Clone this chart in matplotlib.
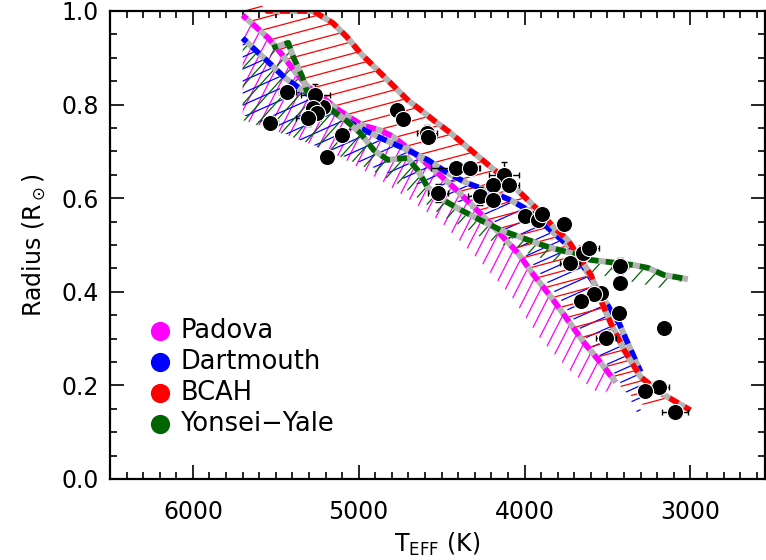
import matplotlib
matplotlib.use('Agg')
import matplotlib.pyplot as plt
import numpy as np
from matplotlib.patches import Polygon
from matplotlib.collections import LineCollection
from matplotlib.ticker import MultipleLocator, FormatStrFormatter

plt.rcParams['font.family'] = ['DejaVu Sans']
plt.rcParams['mathtext.fontset'] = 'dejavusans'

# Padova isochrone (drawn) and the far edge of its band
padova_teff = [5700, 5620, 5545, 5460, 5380, 5305, 5200, 5120, 4980, 4870, 4790, 4630,
               4525, 4430, 4305, 4185, 4040, 3945, 3840, 3740, 3640, 3540, 3450]
padova_rad = [0.991, 0.966, 0.942, 0.906, 0.868, 0.838, 0.810, 0.788, 0.756, 0.745, 0.731, 0.686,
              0.654, 0.624, 0.581, 0.538, 0.483, 0.436, 0.389, 0.340, 0.291, 0.248, 0.207]
padova_edge_teff = [5700, 5515, 5350, 5110, 4870, 4690, 4505, 4265, 4085, 3900, 3720, 3540, 3450]
padova_edge_rad = [0.767, 0.746, 0.724, 0.688, 0.639, 0.596, 0.549, 0.464, 0.393, 0.297, 0.229, 0.179, 0.200]

# Dartmouth
dart_teff = [5700, 5625, 5545, 5445, 5340, 5170, 5080, 4990, 4870, 4730, 4585, 4465,
             4345, 4185, 4085, 3980, 3825, 3705, 3620, 3555, 3480, 3430, 3390, 3300]
dart_rad = [0.942, 0.917, 0.891, 0.857, 0.831, 0.788, 0.767, 0.750, 0.729, 0.707, 0.682, 0.654,
            0.632, 0.611, 0.596, 0.575, 0.526, 0.489, 0.440, 0.404, 0.360, 0.333, 0.300, 0.229]
dart_edge_teff = [5700, 5350, 5110, 4870, 4630, 4385, 4145, 3960, 3780, 3600, 3450, 3360, 3300]
dart_edge_rad = [0.778, 0.724, 0.692, 0.660, 0.628, 0.590, 0.543, 0.464, 0.382, 0.286, 0.222, 0.169, 0.126]

# BCAH
bcah_teff = [5700, 5550, 5275, 5155, 5070, 4990, 4705, 4550, 4445, 4305, 4205, 4085,
             3980, 3900, 3825, 3740, 3680, 3600, 3540, 3480, 3400, 3300, 3180, 3000]
bcah_rad = [1.05, 1.0, 1.0, 0.974, 0.944, 0.910, 0.810, 0.767, 0.739, 0.697, 0.667, 0.632,
            0.596, 0.568, 0.538, 0.511, 0.479, 0.436, 0.382, 0.333, 0.276, 0.218, 0.184, 0.147]
bcah_tail_teff = [3300, 3000]
bcah_tail_rad = [0.160, 0.140]

# Yonsei-Yale
yale_teff = [5520, 5425, 5395, 5340, 5310, 5230, 5160, 5080, 4990, 4910, 4825, 4705, 4645,
             4585, 4490, 4385, 4265, 4145, 3980, 3860, 3720, 3600, 3500, 3340, 3255, 3160, 3015]
yale_rad = [0.921, 0.932, 0.902, 0.859, 0.825, 0.803, 0.788, 0.767, 0.739, 0.703, 0.682, 0.686, 0.660,
            0.624, 0.596, 0.575, 0.553, 0.532, 0.511, 0.496, 0.483, 0.468, 0.464, 0.457, 0.451, 0.436, 0.427]
yale_edge_teff = [5700, 5350, 4990, 4750, 4505, 4265, 3900, 3540, 3175, 3015]
yale_edge_rad = [0.767, 0.724, 0.671, 0.628, 0.564, 0.517, 0.472, 0.436, 0.408, 0.427]

# measured stars
star_teff = [5213, 3648, 3539, 5533, 5431, 5261, 5273, 5249, 5304, 5098, 5189, 4772, 4736, 4591,
             4585, 4416, 4331, 4126, 4192, 4095, 4524, 4270, 4192, 3999, 3920, 3896, 3763, 3612,
             3727, 3425, 3425, 3582, 3660, 3431, 3159, 3509, 3189, 3274, 3092]
star_rad = [0.795, 0.483, 0.397, 0.761, 0.827, 0.821, 0.793, 0.782, 0.771, 0.735, 0.688, 0.788, 0.769, 0.739,
            0.731, 0.665, 0.665, 0.650, 0.628, 0.628, 0.611, 0.605, 0.596, 0.562, 0.553, 0.566, 0.545, 0.494,
            0.462, 0.455, 0.419, 0.395, 0.380, 0.355, 0.323, 0.301, 0.197, 0.188, 0.143]
star_teff_err = [0, 0, 0, 45, 50, 90, 0, 0, 75, 0, 0, 0, 0, 60,
                 0, 150, 55, 90, 0, 60, 60, 70, 0, 0, 0, 0, 0, 60,
                 60, 50, 0, 0, 0, 0, 0, 60, 60, 0, 80]
star_rad_err = [0, 0, 0, 0, 0, 0.023, 0, 0, 0.016, 0, 0, 0, 0, 0.018,
                0, 0, 0, 0.028, 0, 0, 0.02, 0.02, 0, 0, 0, 0, 0, 0,
                0, 0.017, 0, 0, 0, 0, 0, 0, 0, 0, 0]

models = ['Padova', 'Dartmouth', 'BCAH', 'Yonsei\u2212Yale']
colors = ['#ff00ff', '#0000ff', '#ff0000', '#006400']

W, H, DPI = 7.66, 5.60, 100
fig = plt.figure(figsize=(W, H), dpi=DPI)
ax_box = [110 / 766, 1 - 479 / 560, 655 / 766, 468 / 560]
ax = fig.add_axes(ax_box)
ax.set_xlim(6500, 2550)
ax.set_ylim(0.0, 1.0)

ax_w = W * DPI * ax_box[2]
ax_h = H * DPI * ax_box[3]


def hatch_band(top_t, top_r, bot_t, bot_r, color, angle, spacing=11.0):
    verts = list(zip(top_t, top_r)) + list(zip(bot_t[::-1], bot_r[::-1]))
    poly = Polygon(verts, closed=True, facecolor='none', edgecolor='none')
    ax.add_patch(poly)
    th = np.radians(angle)
    d = np.array([np.cos(th), np.sin(th)])
    n = np.array([-np.sin(th), np.cos(th)])
    L = np.hypot(ax_w, ax_h)
    center = np.array([ax_w / 2, ax_h / 2])
    segs = []
    for k in np.arange(-L, L, spacing):
        c = center + k * n
        p0 = c - L * d
        p1 = c + L * d
        segs.append([(p0[0] / ax_w, p0[1] / ax_h), (p1[0] / ax_w, p1[1] / ax_h)])
    lc = LineCollection(segs, colors=color, linewidths=0.9, transform=ax.transAxes, zorder=1)
    lc.set_clip_path(poly)
    ax.add_collection(lc, autolim=False)


# hatched bands
hatch_band(padova_teff, padova_rad, padova_edge_teff, padova_edge_rad, colors[0], 63, 10.5)
hatch_band(dart_teff, dart_rad, dart_edge_teff, dart_edge_rad, colors[1], 24, 11.0)
hatch_band(bcah_teff, bcah_rad, padova_teff + bcah_tail_teff, padova_rad + bcah_tail_rad,
           colors[2], 15, 11.5)
yale_top_teff = [t for t in dart_teff if t > yale_teff[0]] + yale_teff
yale_top_rad = [r for t, r in zip(dart_teff, dart_rad) if t > yale_teff[0]] + yale_rad
hatch_band(yale_top_teff, yale_top_rad, yale_edge_teff, yale_edge_rad, colors[3], 48, 12.0)

# isochrone lines: grey underlay + coloured dashes
curves = [(padova_teff, padova_rad), (dart_teff, dart_rad), (bcah_teff, bcah_rad), (yale_teff, yale_rad)]
for (t, r), col in zip(curves, colors):
    ax.plot(t, r, color='#b4b4b4', lw=4.3, solid_capstyle='butt', zorder=2)
    ax.plot(t, r, color=col, lw=4.0, linestyle=(0.8, (1.8, 1.3)), dash_capstyle='butt', zorder=2)

# stars
ax.errorbar(star_teff, star_rad, xerr=star_teff_err, yerr=star_rad_err, fmt='none',
            ecolor='black', elinewidth=1.0, capsize=2.5, capthick=1.0, zorder=3)
ax.scatter(star_teff, star_rad, s=135, c='black', edgecolors='white', linewidths=0.8, zorder=4)

# legend
for i, (name, col) in enumerate(zip(models, colors)):
    yy = 0.316 - i * 0.066
    ax.scatter([0.0763], [yy], s=165, c=col, transform=ax.transAxes, zorder=5, clip_on=False)
    ax.text(0.107, yy, name, transform=ax.transAxes, fontsize=18.5, va='center', ha='left')

# axes styling
ax.xaxis.set_major_locator(MultipleLocator(1000))
ax.xaxis.set_minor_locator(MultipleLocator(100))
ax.yaxis.set_major_locator(MultipleLocator(0.2))
ax.yaxis.set_minor_locator(MultipleLocator(0.05))
ax.yaxis.set_major_formatter(FormatStrFormatter('%.1f'))
ax.tick_params(which='both', direction='in', top=True, right=True, width=1.2)
ax.tick_params(which='major', length=10, labelsize=17)
ax.tick_params(axis='x', which='major', pad=15)
ax.tick_params(axis='y', which='major', pad=8)
ax.tick_params(which='minor', length=5)
for sp in ax.spines.values():
    sp.set_linewidth(1.6)

ax.set_xlabel(r'T$_{\mathrm{EFF}}$ (K)', fontsize=17, labelpad=5)
ax.set_ylabel(r'Radius (R$_\odot$)', fontsize=17, labelpad=10)

fig.savefig('out.png', dpi=DPI)
